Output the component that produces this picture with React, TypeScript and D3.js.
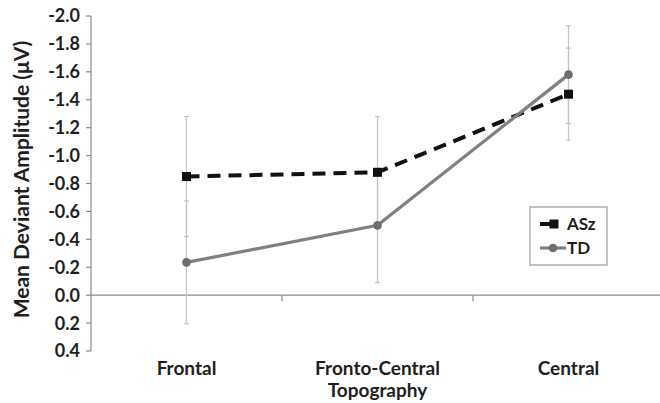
import * as d3 from "d3";

// データ
const categories = ["Frontal", "Fronto-Central", "Central"];
const aszValues = [-0.85, -0.88, -1.44];
const aszErrors = [0.43, 0.40, 0.33];
const tdValues = [-0.235, -0.50, -1.58];
const tdErrors = [0.44, 0.41, 0.35];
const yTicks = [-2.0, -1.8, -1.6, -1.4, -1.2, -1.0, -0.8, -0.6, -0.4, -0.2, 0.0, 0.2, 0.4];

const width = 660;
const height = 403;
const font = "Lato, 'Open Sans', sans-serif";

const App = () => {
  // 軸のスケール
  const x = d3.scaleBand<string>().domain(categories).range([91, 664]).padding(0);
  const y = d3.scaleLinear().domain([-2.0, 0.4]).range([16, 351]);
  const cx = (c: string) => (x(c) as number) + x.bandwidth() / 2;

  const line = d3.line<[number, number]>().x(d => d[0]).y(d => d[1]);
  const aszPts = categories.map((c, i) => [cx(c), y(aszValues[i])] as [number, number]);
  const tdPts = categories.map((c, i) => [cx(c), y(tdValues[i])] as [number, number]);

  const errBars = (vals: number[], errs: number[]) =>
    categories.map((c, i) => {
      const px = cx(c);
      const y1 = y(vals[i] - errs[i]);
      const y2 = y(vals[i] + errs[i]);
      return (
        <g key={c} stroke="#c4c4c4" strokeWidth={1.2}>
          <line x1={px} x2={px} y1={y1} y2={y2} />
          <line x1={px - 2.5} x2={px + 2.5} y1={y1} y2={y1} />
          <line x1={px - 2.5} x2={px + 2.5} y1={y2} y2={y2} />
        </g>
      );
    });

  const bandEdges = categories.slice(1).map(c => x(c) as number);

  return (
    <svg width={width} height={height} style={{position: "absolute", left: 0, top: 0}} fontFamily={font}>
      <rect width={width} height={height} fill="#fff" />

      {/* y軸 */}
      <line x1={91} x2={91} y1={y(-2.0)} y2={y(0.4)} stroke="#8a8a8a" strokeWidth={1.2} />
      {yTicks.map(t => (
        <g key={t}>
          <line x1={86} x2={91} y1={y(t)} y2={y(t)} stroke="#8a8a8a" strokeWidth={1.2} />
          <text x={80} y={y(t)} dy="0.36em" textAnchor="end" fontSize={18} fontWeight="bold" fill="#1e1e1e">
            {t.toFixed(1)}
          </text>
        </g>
      ))}
      <text
        transform={`translate(29,${(y(-2.0) + y(0.4)) / 2 - 4}) rotate(-90)`}
        textAnchor="middle"
        fontSize={21}
        fontWeight="bold"
        fill="#1e1e1e"
      >
        Mean Deviant Amplitude (μV)
      </text>

      {/* x軸 (0.0の位置) */}
      <line x1={91} x2={width} y1={y(0)} y2={y(0)} stroke="#8a8a8a" strokeWidth={1.2} />
      {bandEdges.map(e => (
        <line key={e} x1={e} x2={e} y1={y(0)} y2={y(0) + 6} stroke="#8a8a8a" strokeWidth={1.2} />
      ))}
      {categories.map(c => (
        <text key={c} x={cx(c)} y={375} textAnchor="middle" fontSize={19} fontWeight="bold" fill="#1e1e1e">
          {c}
        </text>
      ))}
      <text x={(91 + 664) / 2} y={397} textAnchor="middle" fontSize={19} fontWeight="bold" fill="#1e1e1e">
        Topography
      </text>

      {/* エラーバー */}
      {errBars(aszValues, aszErrors)}
      {errBars(tdValues, tdErrors)}

      {/* ASz 破線 */}
      <path d={line(aszPts) ?? ""} fill="none" stroke="#111" strokeWidth={4} strokeDasharray="13,8" />
      {/* TD 実線 */}
      <path d={line(tdPts) ?? ""} fill="none" stroke="#808080" strokeWidth={3.2} />

      {aszPts.map((p, i) => (
        <rect key={i} x={p[0] - 4.5} y={p[1] - 4.5} width={9} height={9} fill="#111" />
      ))}
      {tdPts.map((p, i) => (
        <circle key={i} cx={p[0]} cy={p[1]} r={4.3} fill="#6e6e6e" />
      ))}

      {/* 凡例 */}
      <rect x={530} y={207} width={77} height={58} fill="#fff" stroke="#9a9a9a" strokeWidth={1.2} />
      <line x1={540} x2={551} y1={224} y2={224} stroke="#111" strokeWidth={4} />
      <rect x={549.5} y={219.5} width={9} height={9} fill="#111" />
      <text x={567} y={224} dy="0.36em" fontSize={17} fontWeight="bold" fill="#1e1e1e">ASz</text>
      <line x1={540} x2={566} y1={248} y2={248} stroke="#808080" strokeWidth={3.2} />
      <circle cx={553} cy={248} r={4.3} fill="#6e6e6e" />
      <text x={567} y={248} dy="0.36em" fontSize={17} fontWeight="bold" fill="#1e1e1e">TD</text>
    </svg>
  );
};

export default App;
